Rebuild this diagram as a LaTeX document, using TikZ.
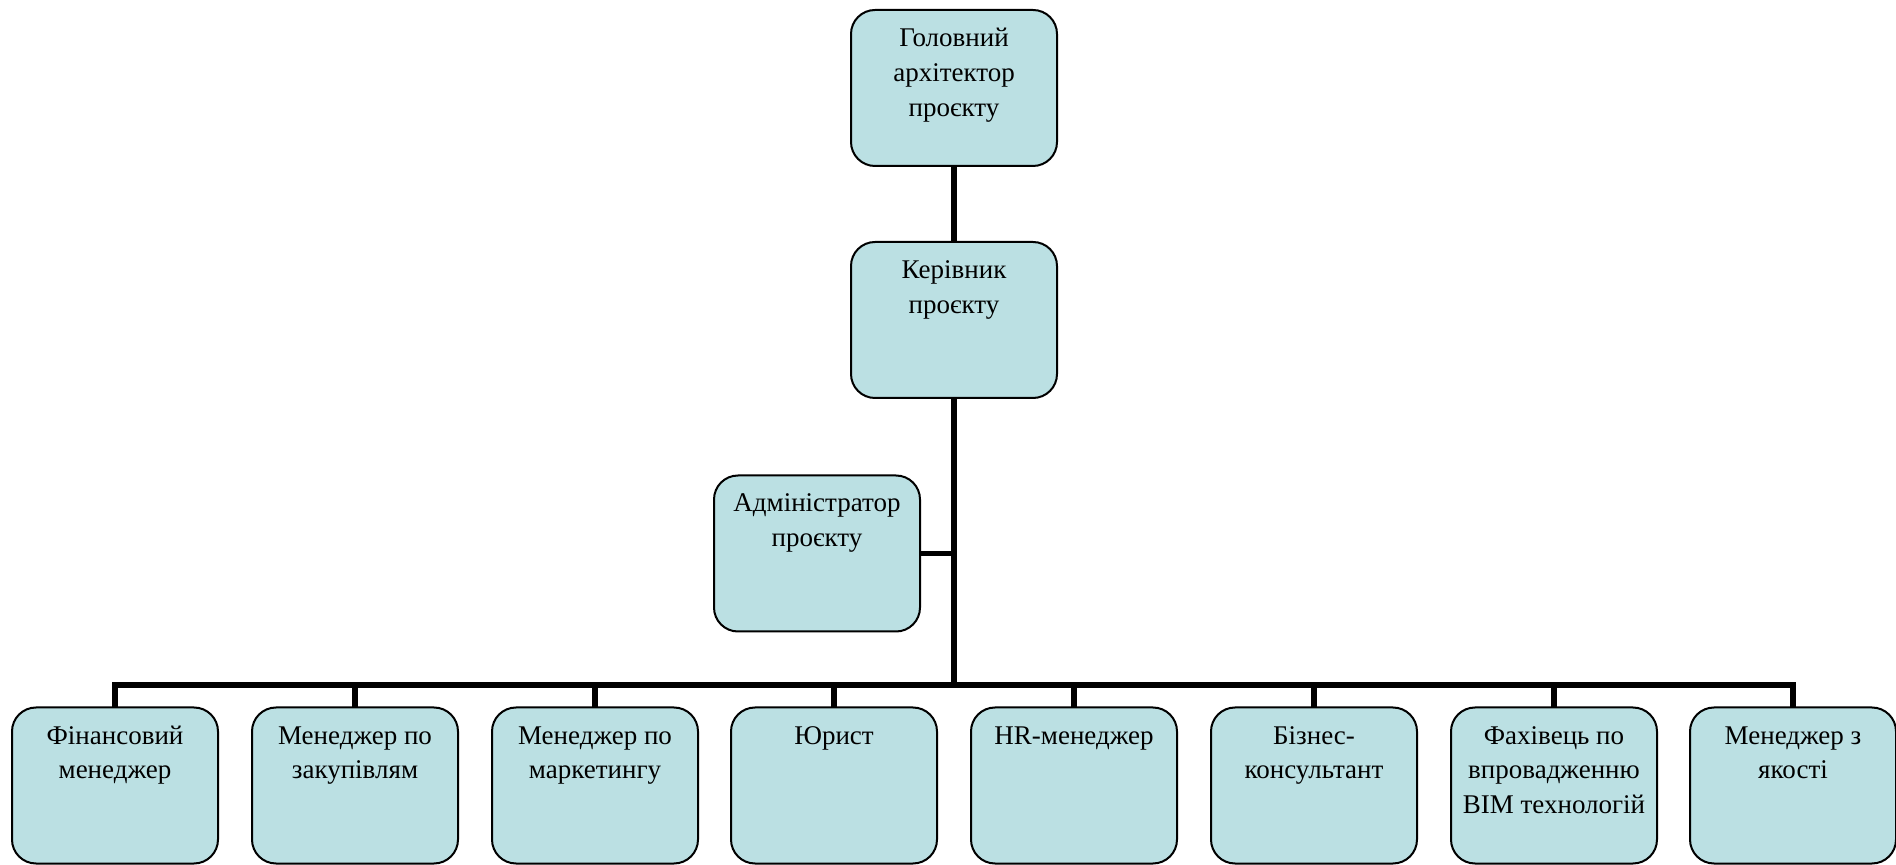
\documentclass[tikz,border=0pt]{standalone}
\usepackage{fontspec}
\setmainfont{Liberation Serif}
\definecolor{boxfill}{HTML}{BBE0E3}
\newcommand{\boxtext}[1]{\parbox[c][78pt][t]{100pt}{\centering\fontsize{13.5}{17.5}\selectfont\vspace*{6pt}\strut #1\strut}}
\tikzset{
  orgbox/.style={draw=black, line width=1pt, fill=boxfill, rounded corners=12pt,
    minimum width=103pt, minimum height=78pt, inner sep=0pt, outer sep=0pt},
  conn/.style={line width=2.6pt, line join=miter, line cap=butt},
  trunk/.style={line width=3pt, line cap=butt}
}
\begin{document}
\begin{tikzpicture}[x=0.5pt, y=-0.5pt]
\useasboundingbox (0,0) rectangle (1896,865);
\coordinate (bus) at (954,685);
% boxes
\node[orgbox] (top) at (954,88) {\boxtext{Головний архітектор проєкту}};
\node[orgbox] (ker) at (954,320) {\boxtext{Керівник проєкту}};
\node[orgbox] (adm) at (817,553.5) {\boxtext{Адміністратор проєкту}};
\node[orgbox] (b1) at (115,785.5) {\boxtext{Фінансовий менеджер}};
\node[orgbox] (b2) at (355,785.5) {\boxtext{Менеджер по закупівлям}};
\node[orgbox] (b3) at (595,785.5) {\boxtext{Менеджер по маркетингу}};
\node[orgbox] (b4) at (834,785.5) {\boxtext{Юрист}};
\node[orgbox] (b5) at (1074,785.5) {\boxtext{HR-менеджер}};
\node[orgbox] (b6) at (1314,785.5) {\boxtext{Бізнес-\\консультант}};
\node[orgbox] (b7) at (1554,785.5) {\boxtext{Фахівець по впровадженню BIM технологій}};
\node[orgbox] (b8) at (1793,785.5) {\boxtext{Менеджер з якості}};
% connectors
\draw[conn] (top.south) -- (ker.north);
\draw[trunk] (ker.south) -- ([yshift=-0.5pt]ker.south |- bus);
\draw[conn] (adm.east) -- (adm.east -| ker.south);
\draw[conn] (b1.north) |- (bus) -| (b8.north);
\foreach \b in {b2,b3,b4,b5,b6,b7}
  \draw[conn] (\b.north) -- ([yshift=1.3pt]\b.north |- bus);
\end{tikzpicture}
\end{document}
